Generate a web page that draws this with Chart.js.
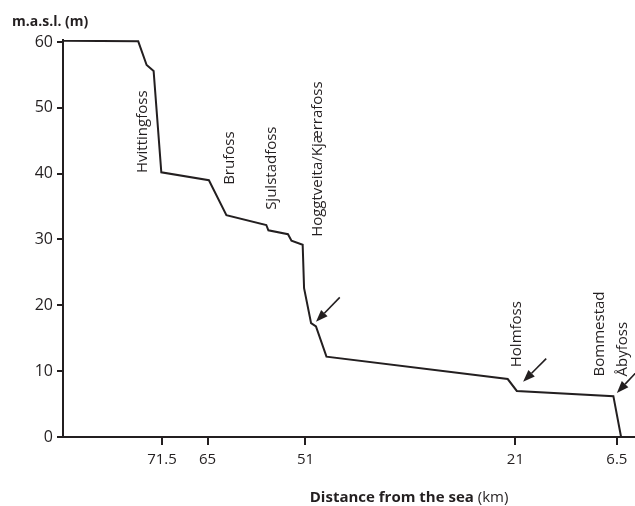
<!DOCTYPE html>
<html>
<head>
<meta charset="utf-8">
<script src="https://cdn.jsdelivr.net/npm/chart.js@4"></script>
<style>
  body { margin: 0; background: #fff; }
  #wrap { width: 635px; height: 506px; position: relative; }
</style>
</head>
<body>
<div id="wrap"><canvas id="profile"></canvas></div>
<script>
// River profile: elevation vs distance from the sea
const distKm = [85.65, 74.9, 73.7, 72.7, 71.6, 64.8, 62.3, 56.6, 56.3, 53.5, 53.0, 51.4, 51.2, 50.2, 49.5, 48.0, 22.1, 20.8, 7.0, 5.9];
const elevM  = [60.2, 60.1, 56.5, 55.6, 40.2, 39.0, 33.7, 32.2, 31.4, 30.8, 29.8, 29.2, 22.6, 17.3, 16.8, 12.2, 8.8, 7.0, 6.2, 0];

const xTicks = [71.5, 65, 51, 21, 6.5];
const yTicks = [0, 10, 20, 30, 40, 50, 60];

// waterfall labels (text starts at base and runs upwards)
const fallNames  = ['Hvittingfoss', 'Brufoss', 'Sjulstadfoss', 'Hoggtveita/Kjærrafoss', 'Holmfoss', 'Bommestad', 'Åbyfoss'];
const fallKm     = [74.2, 61.8, 55.85, 49.2, 20.8, 8.9, 5.6];
const fallBaseM  = [40.1, 38.3, 34.5, 30.4, 10.6, 9.2, 9.2];

// arrows
const arrowFromKm = [46.1, 16.6, 3.5];
const arrowFromM  = [21.2, 11.9, 10.1];
const arrowToKm   = [49.5, 19.9, 6.5];
const arrowToM    = [17.5, 8.4, 6.7];

const ink = '#231f20';
const fontFam = '"Open Sans", "Noto Sans", sans-serif';

const annotations = {
    id: 'annotations',
    afterDraw(chart) {
        const ctx = chart.ctx;
        const x = chart.scales.x, y = chart.scales.y;
        const area = chart.chartArea;
        ctx.save();
        ctx.fillStyle = ink;
        ctx.strokeStyle = ink;

        // rotated waterfall names
        ctx.font = '15px ' + fontFam;
        ctx.textAlign = 'left';
        ctx.textBaseline = 'middle';
        fallNames.forEach((name, i) => {
            ctx.save();
            ctx.translate(x.getPixelForValue(fallKm[i]), y.getPixelForValue(fallBaseM[i]));
            ctx.rotate(-Math.PI / 2);
            ctx.fillText(name, 0, 0);
            ctx.restore();
        });

        // arrows
        ctx.lineWidth = 1.6;
        arrowFromKm.forEach((v, i) => {
            const x0 = x.getPixelForValue(v), y0 = y.getPixelForValue(arrowFromM[i]);
            const x1 = x.getPixelForValue(arrowToKm[i]), y1 = y.getPixelForValue(arrowToM[i]);
            const ang = Math.atan2(y1 - y0, x1 - x0);
            const len = 12, half = 4.5;
            const bx = x1 - len * Math.cos(ang), by = y1 - len * Math.sin(ang);
            ctx.beginPath();
            ctx.moveTo(x0, y0);
            ctx.lineTo(bx, by);
            ctx.stroke();
            ctx.beginPath();
            ctx.moveTo(x1, y1);
            ctx.lineTo(bx + half * Math.sin(ang), by - half * Math.cos(ang));
            ctx.lineTo(bx - half * Math.sin(ang), by + half * Math.cos(ang));
            ctx.closePath();
            ctx.fill();
        });

        // y unit label
        ctx.font = 'bold 14px ' + fontFam;
        ctx.textAlign = 'left';
        ctx.textBaseline = 'middle';
        ctx.fillText('m.a.s.l. (m)', area.left - 51, area.top - 18);

        // x axis title, bold + regular
        const boldPart = 'Distance from the sea', plainPart = ' (km)';
        ctx.font = 'bold 15px ' + fontFam;
        const wb = ctx.measureText(boldPart).width;
        ctx.font = '15px ' + fontFam;
        const wp = ctx.measureText(plainPart).width;
        const cx = area.left + 0.605 * (area.right - area.left);
        const ty = area.bottom + 61;
        ctx.font = 'bold 15px ' + fontFam;
        ctx.fillText(boldPart, cx - (wb + wp) / 2, ty);
        ctx.font = '15px ' + fontFam;
        ctx.fillText(plainPart, cx - (wb + wp) / 2 + wb, ty);

        ctx.restore();
    }
};

new Chart(document.getElementById('profile'), {
    type: 'line',
    data: {
        datasets: [{
            data: distKm.map((d, i) => ({ x: d, y: elevM[i] })),
            borderColor: ink,
            borderWidth: 2,
            pointRadius: 0,
            tension: 0,
            fill: false
        }]
    },
    options: {
        responsive: true,
        maintainAspectRatio: false,
        animation: false,
        layout: { padding: { top: 40, left: 0, right: 0, bottom: 0 } },
        plugins: {
            legend: { display: false },
            tooltip: { enabled: false }
        },
        scales: {
            x: {
                type: 'linear',
                reverse: true,
                min: 3.91,
                max: 85.65,
                afterBuildTicks: s => { s.ticks = xTicks.map(v => ({ value: v })); },
                afterFit: s => { s.height = 69; },
                ticks: {
                    autoSkip: false,
                    maxRotation: 0,
                    padding: 6,
                    color: ink,
                    font: { family: fontFam, size: 15 },
                    callback: v => String(v)
                },
                grid: { drawOnChartArea: false, drawTicks: true, tickLength: 8, tickColor: ink, lineWidth: 2 },
                border: { display: true, color: ink, width: 2 }
            },
            y: {
                type: 'linear',
                min: 0,
                max: 60.3,
                afterBuildTicks: s => { s.ticks = yTicks.map(v => ({ value: v })); },
                afterFit: s => { s.width = 63; },
                ticks: {
                    padding: 4,
                    color: ink,
                    font: { family: fontFam, size: 16 }
                },
                grid: { drawOnChartArea: false, drawTicks: true, tickLength: 6, tickColor: ink, lineWidth: 2 },
                border: { display: true, color: ink, width: 2 }
            }
        }
    },
    plugins: [annotations]
});
</script>
</body>
</html>
